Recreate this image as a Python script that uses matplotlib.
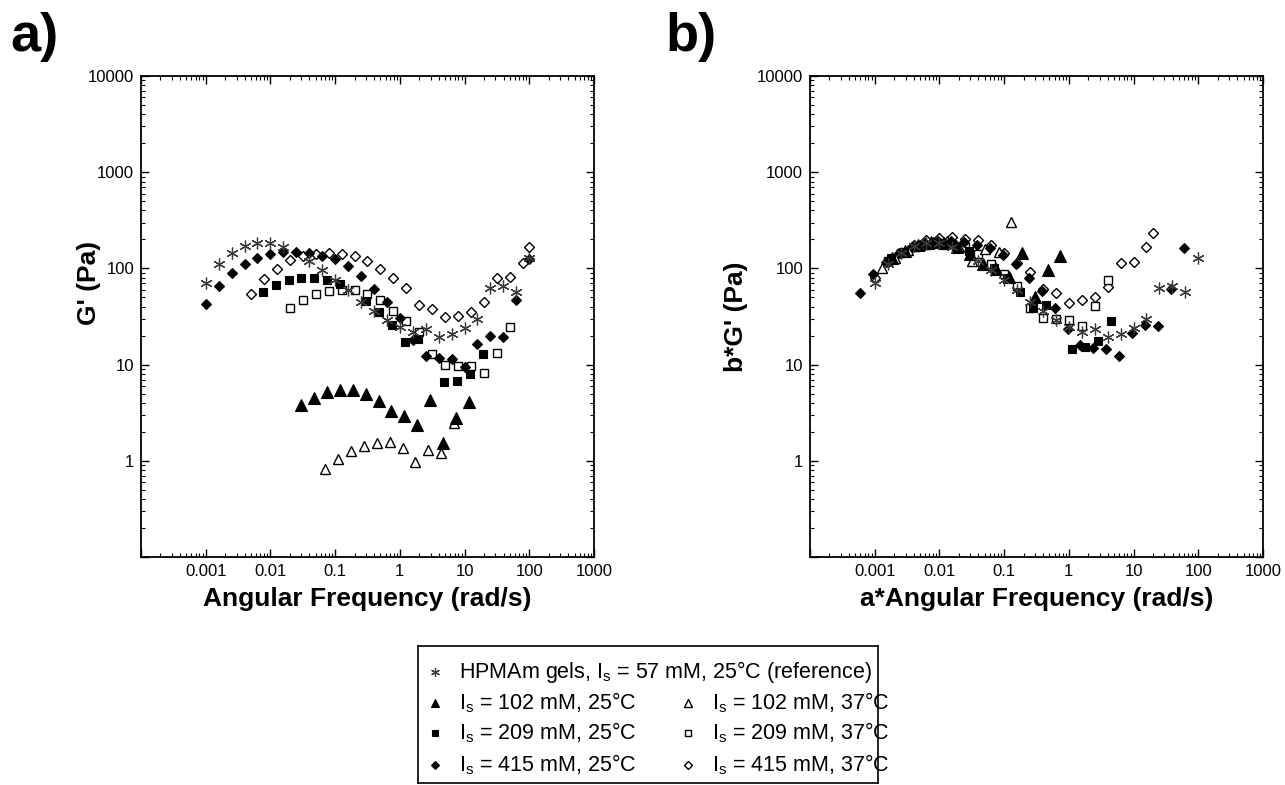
"""
Rheology figure: G' vs angular frequency (a) and shifted master curve (b).
Output: out.png
"""
import matplotlib
matplotlib.use('Agg')
import matplotlib.pyplot as plt
from matplotlib.ticker import LogLocator, FixedLocator, FixedFormatter, NullFormatter

plt.rcParams.update({
    'font.family':      ['Liberation Sans', 'DejaVu Sans'],
    'mathtext.default': 'regular',
    'axes.linewidth':   1.3,
})

# ── panel a data (rad/s, Pa) ──────────────────────────────────────────────────
ref_w = [0.001, 0.00158, 0.00251, 0.00398, 0.00631, 0.01, 0.0158, 0.0398, 0.0631,
         0.1, 0.158, 0.251, 0.398, 0.631, 1.0, 1.58, 2.51, 3.98, 6.31,
         10.0, 15.8, 25.1, 39.8, 63.1, 100.0]
ref_g = [71, 110, 143, 169, 183, 182, 167, 119, 96,
         75, 59, 45, 36, 29, 24.5, 21.8, 23.3, 19.5, 20.7,
         24, 30, 62, 66, 57, 128]

d25_w = [0.001, 0.00158, 0.00251, 0.00398, 0.00631, 0.01, 0.0158, 0.0251, 0.0398, 0.0631,
         0.1, 0.158, 0.251, 0.398, 0.631, 1.0, 1.58, 2.51, 3.98, 6.31,
         10.0, 15.8, 25.1, 39.8, 63.1, 100.0]
d25_g = [43, 66, 89, 112, 129, 142, 147, 147, 145, 133,
         125, 107, 84, 61, 44.6, 30.4, 18.2, 12.3, 11.7, 11.5,
         9.5, 16.3, 19.8, 19.5, 46.4, 126]

d37_w = [0.005, 0.00794, 0.0126, 0.02, 0.0316, 0.05, 0.0794, 0.126, 0.2, 0.316,
         0.5, 0.794, 1.26, 2.0, 3.16, 5.01, 7.94, 12.6, 20.0, 31.6, 50.1, 79.4, 100.0]
d37_g = [54, 77, 99, 121, 133, 142, 145, 142, 133, 120,
         99, 79, 62, 42, 38, 31, 32, 35, 45, 79, 82, 114, 165]

s25_w = [0.00759, 0.012, 0.0191, 0.0302, 0.0479, 0.0759, 0.12, 0.302, 0.479, 0.759,
         1.2, 1.91, 4.79, 7.59, 12.0, 19.1]
s25_g = [57, 67, 75, 79, 79.5, 75, 69, 46, 35.5, 25.8,
         17.3, 18.6, 6.6, 6.8, 8.0, 12.8]

s37_w = [0.02, 0.0316, 0.05, 0.0794, 0.126, 0.2, 0.316, 0.5, 0.794, 1.26,
         2.0, 3.16, 5.01, 7.94, 12.6, 20.0, 31.6, 50.1]
s37_g = [39, 47, 54.5, 58, 60, 59, 54.5, 46.5, 36.5, 28.6,
         21.8, 12.9, 9.9, 9.7, 9.6, 8.2, 13.3, 24.8]

t25_w = [0.0295, 0.0468, 0.0741, 0.117, 0.186, 0.295, 0.468, 0.741, 1.17, 1.86,
         2.95, 4.68, 7.41, 11.7]
t25_g = [3.76, 4.49, 5.14, 5.49, 5.4, 4.9, 4.17, 3.28, 2.89, 2.38,
         4.24, 1.52, 2.8, 4.07]

t37_w = [0.0692, 0.110, 0.174, 0.275, 0.437, 0.692, 1.10, 1.74, 2.75, 4.37, 6.92]
t37_g = [0.818, 1.04, 1.25, 1.44, 1.53, 1.55, 1.36, 0.98, 1.31, 1.21, 2.5]

# ── panel b data (a*w, b*G') ──────────────────────────────────────────────────
d25b_w = [0.000603, 0.000955, 0.00151, 0.0024, 0.0038, 0.00603, 0.00955, 0.0151, 0.024, 0.038,
          0.0603, 0.0955, 0.151, 0.24, 0.38, 0.603, 0.955, 1.51, 2.4, 3.8,
          6.03, 9.55, 15.1, 24.0, 38.0, 60.3]
d25b_g = [56, 87, 116, 146, 168, 185, 191, 191, 188, 173,
          162, 139, 111, 79, 58, 39, 23.6, 16, 15, 14.6,
          12.2, 21.4, 25.8, 25.2, 61, 162]

d37b_w = [0.001, 0.00158, 0.00251, 0.00398, 0.00631, 0.01, 0.0158, 0.0251, 0.0398, 0.0631,
          0.1, 0.158, 0.251, 0.398, 0.631, 1.0, 1.58, 2.51, 3.98, 6.31, 10.0, 15.8, 20.0]
d37b_g = [80, 117, 143, 177, 198, 208, 211, 203, 195, 173,
          143, 114, 91, 61, 55, 44, 46.7, 50.6, 64, 114, 117, 166, 236]

s25b_w = [0.00178, 0.00282, 0.00447, 0.00708, 0.0112, 0.0178, 0.0282, 0.0708, 0.112, 0.178,
          0.282, 0.447, 1.12, 1.78, 2.82, 4.47]
s25b_g = [127, 149, 167, 175, 176, 167, 153, 102, 79, 57,
          38.4, 41.3, 14.7, 15.1, 17.8, 28.4]

s37b_w = [0.00158, 0.00251, 0.00398, 0.00631, 0.01, 0.0158, 0.0251, 0.0398, 0.0631, 0.1,
          0.158, 0.251, 0.398, 0.631, 1.0, 1.58, 2.51, 3.98]
s37b_g = [119, 144, 167, 177, 184, 180, 167, 142, 112, 87,
          66, 39, 30.5, 29.7, 28.8, 25.2, 40.7, 76]

t25b_w = [0.00186, 0.00295, 0.00468, 0.00741, 0.0117, 0.0186, 0.0295, 0.0468, 0.0741, 0.117,
          0.186, 0.295, 0.468, 0.741]
t25b_g = [128, 153, 175, 187, 184, 167, 142, 112, 98, 81,
          145, 51, 96, 136]

t37b_w = [0.00129, 0.00204, 0.00324, 0.00501, 0.00794, 0.0129, 0.0204, 0.0316, 0.0513, 0.0832, 0.129]
t37b_g = [100, 128, 154, 177, 188, 191, 167, 120, 161, 149, 307]

X_TICKS  = [0.001, 0.01, 0.1, 1, 10, 100, 1000]
X_LABELS = ['0.001', '0.01', '0.1', '1', '10', '100', '1000']
Y_TICKS  = [1, 10, 100, 1000, 10000]
Y_LABELS = ['1', '10', '100', '1000', '10000']

# marker styles
ST = {
    'ref': dict(marker=(6, 2, 0), ms=8.5, mfc='none', mec='#3a3a3a', mew=0.9),
    't25': dict(marker='^', ms=8, mfc='black', mec='black', mew=0.8),
    't37': dict(marker='^', ms=7.5, mfc='white', mec='black', mew=1.0),
    's25': dict(marker='s', ms=6.2, mfc='black', mec='black', mew=0.8),
    's37': dict(marker='s', ms=5.6, mfc='white', mec='black', mew=1.0),
    'd25': dict(marker='D', ms=5.2, mfc='black', mec='black', mew=0.8),
    'd37': dict(marker='D', ms=5.4, mfc='white', mec='black', mew=1.0),
}


def style_axes(ax, xlabel, ylabel, ylab_xy):
    ax.set_xscale('log')
    ax.set_yscale('log')
    ax.set_xlim(1e-4, 1e3)
    ax.set_ylim(0.1, 1e4)
    ax.xaxis.set_major_locator(FixedLocator(X_TICKS + [1e-4]))
    ax.xaxis.set_major_formatter(FixedFormatter(X_LABELS + ['']))
    ax.yaxis.set_major_locator(FixedLocator(Y_TICKS + [0.1]))
    ax.yaxis.set_major_formatter(FixedFormatter(Y_LABELS + ['']))
    for axis in (ax.xaxis, ax.yaxis):
        axis.set_minor_locator(LogLocator(base=10, subs=range(2, 10), numticks=20))
        axis.set_minor_formatter(NullFormatter())
    ax.tick_params(which='both', direction='in', top=True, right=True,
                   labelsize=12, pad=5)
    ax.tick_params(which='major', length=6, width=1.0)
    ax.tick_params(which='minor', length=3, width=0.8)
    ax.set_xlabel(xlabel, fontsize=19, fontweight='bold', labelpad=6)
    ax.set_ylabel(ylabel, fontsize=19, fontweight='bold')
    ax.yaxis.set_label_coords(*ylab_xy)


def draw(ax, w, g, key):
    ax.plot(w, g, linestyle='none', clip_on=False, **ST[key])


fig = plt.figure(figsize=(12.85, 7.85), dpi=100)
ax_a = fig.add_axes([141 / 1285, 1 - 557 / 785, 453 / 1285, 481 / 785])
ax_b = fig.add_axes([810 / 1285, 1 - 557 / 785, 453 / 1285, 481 / 785])

for key, w, g in [('d37', d37_w, d37_g), ('s37', s37_w, s37_g), ('t37', t37_w, t37_g),
                  ('d25', d25_w, d25_g), ('s25', s25_w, s25_g), ('t25', t25_w, t25_g),
                  ('ref', ref_w, ref_g)]:
    draw(ax_a, w, g, key)

for key, w, g in [('d37', d37b_w, d37b_g), ('s37', s37b_w, s37b_g), ('t37', t37b_w, t37b_g),
                  ('d25', d25b_w, d25b_g), ('s25', s25b_w, s25b_g), ('t25', t25b_w, t25b_g),
                  ('ref', ref_w, ref_g)]:
    draw(ax_b, w, g, key)

style_axes(ax_a, 'Angular Frequency (rad/s)', "G' (Pa)", (-0.088, 0.57))
style_axes(ax_b, 'a*Angular Frequency (rad/s)', "b*G' (Pa)", (-0.137, 0.50))

fig.text(10 / 1285, 1 - 12 / 785, 'a)', fontsize=39, fontweight='bold', va='top', ha='left')
fig.text(665 / 1285, 1 - 12 / 785, 'b)', fontsize=39, fontweight='bold', va='top', ha='left')

# ── legend box (drawn by hand: first row spans both columns) ──────────────────
lax = fig.add_axes([418 / 1285, 1 - 783 / 785, 460 / 1285, 137 / 785])
lax.set_xlim(0, 460)
lax.set_ylim(137, 0)
lax.set_xticks([])
lax.set_yticks([])
for sp in lax.spines.values():
    sp.set_linewidth(1.2)

LEG_ROWS = [26, 57, 87, 119]
leg_items = [
    ('ref', 17, LEG_ROWS[0], 'HPMAm gels, I$_s$ = 57 mM, 25°C (reference)'),
    ('t25', 17, LEG_ROWS[1], 'I$_s$ = 102 mM, 25°C'),
    ('s25', 17, LEG_ROWS[2], 'I$_s$ = 209 mM, 25°C'),
    ('d25', 17, LEG_ROWS[3], 'I$_s$ = 415 mM, 25°C'),
    ('t37', 270, LEG_ROWS[1], 'I$_s$ = 102 mM, 37°C'),
    ('s37', 270, LEG_ROWS[2], 'I$_s$ = 209 mM, 37°C'),
    ('d37', 270, LEG_ROWS[3], 'I$_s$ = 415 mM, 37°C'),
]
for key, mx, my, label in leg_items:
    st = dict(ST[key])
    st['ms'] = st['ms'] * 0.75
    lax.plot([mx], [my], linestyle='none', clip_on=False, **st)
    lax.text(mx + 24, my, label, fontsize=15.5, va='center', ha='left', clip_on=False)

fig.savefig('out.png', dpi=100)
